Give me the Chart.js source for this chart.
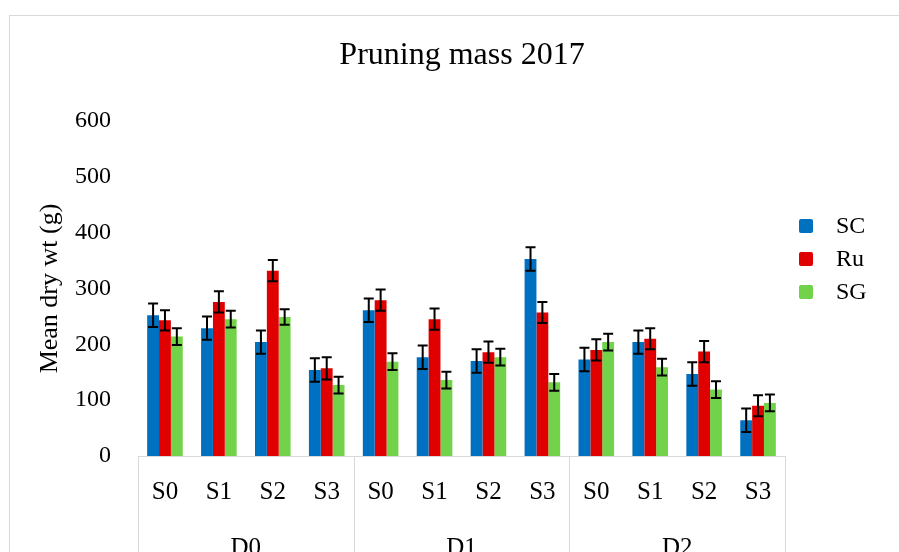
<!DOCTYPE html>
<html><head><meta charset="utf-8">
<script src="https://cdn.jsdelivr.net/npm/chart.js@4"></script>
<style>
html,body{margin:0;padding:0;background:#fff;overflow:hidden;width:899px;height:552px;}
#frame{position:absolute;left:9px;top:15px;width:1000px;height:1000px;border:1px solid #d9d9d9;box-sizing:border-box;}
#wrap{position:absolute;left:0;top:0;width:899px;height:600px;}
</style></head><body>
<div id="frame"></div>
<div id="wrap"><canvas id="c" width="899" height="600"></canvas></div>
<script>
const categories = ['S0','S1','S2','S3','S0','S1','S2','S3','S0','S1','S2','S3'];
const groups = ['D0','D1','D2'];
const seriesNames = ['SC','Ru','SG'];
const seriesColors = ['#0070C0','#E00000','#72D24A'];
const scValues = [252,229,204,154, 261,177,170,353, 173,204,147,64];
const ruValues = [243,276,332,157, 279,245,186,257, 190,210,187,90];
const sgValues = [214,245,249,127, 169,136,177,132, 204,159,119,95];
const scErrors = [21,21,21,21, 21,21,21,21, 21,21,21,21];
const ruErrors = [18,19,19,20, 19,19,19,19, 19,19,19,19];
const sgErrors = [15,15,14,15, 15,15,15,15, 15,15,15,15];
const yTicks = [0,100,200,300,400,500,600];
const chartTitle = 'Pruning mass 2017';

const FONT = "'Liberation Serif', 'Times New Roman', serif";
Chart.defaults.font.family = FONT;
Chart.defaults.color = '#000';

const errorBars = {
  id: 'errorBars',
  afterDatasetsDraw(chart) {
    const ctx = chart.ctx;
    const y = chart.scales.y;
    ctx.save();
    ctx.strokeStyle = '#000';
    ctx.lineWidth = 2;
    chart.data.datasets.forEach((ds, i) => {
      const meta = chart.getDatasetMeta(i);
      meta.data.forEach((bar, j) => {
        const v = ds.data[j], e = ds.errors[j];
        const y1 = y.getPixelForValue(v + e), y2 = y.getPixelForValue(v - e);
        const cx = bar.x, cap = 5;
        ctx.beginPath();
        ctx.moveTo(cx, y1); ctx.lineTo(cx, y2);
        ctx.moveTo(cx - cap, y1); ctx.lineTo(cx + cap, y1);
        ctx.moveTo(cx - cap, y2); ctx.lineTo(cx + cap, y2);
        ctx.stroke();
      });
    });
    ctx.restore();
  }
};

const decor = {
  id: 'decor',
  afterDraw(chart) {
    const ctx = chart.ctx, x = chart.scales.x, area = chart.chartArea;
    const half = (x.getPixelForValue(1) - x.getPixelForValue(0)) / 2;
    ctx.save();
    ctx.strokeStyle = '#d9d9d9';
    ctx.lineWidth = 1;
    for (let g = 0; g <= groups.length; g++) {
      const idx = g * 4;
      const px = idx < categories.length ? x.getPixelForValue(idx) - half : x.getPixelForValue(categories.length - 1) + half;
      const sx = Math.round(px) + 0.5;
      ctx.beginPath();
      ctx.moveTo(sx, area.bottom);
      ctx.lineTo(sx, chart.height);
      ctx.stroke();
    }
    // title
    ctx.fillStyle = '#000';
    ctx.font = '32px ' + FONT;
    ctx.textAlign = 'center';
    ctx.textBaseline = 'middle';
    ctx.fillText(chartTitle, 462, area.top - 65);
    // legend
    const lx = area.right + 14;
    const ly0 = area.top + 105;
    ctx.font = '24px ' + FONT;
    ctx.textBaseline = 'middle';
    ctx.textAlign = 'left';
    seriesNames.forEach((name, i) => {
      const cy = ly0 + i * 33;
      ctx.fillStyle = seriesColors[i];
      ctx.beginPath();
      if (ctx.roundRect) ctx.roundRect(lx, cy - 7, 14, 14, 2); else ctx.rect(lx, cy - 7, 14, 14);
      ctx.fill();
      ctx.fillStyle = '#000';
      ctx.fillText(name, lx + 37, cy + 1);
    });
    ctx.restore();
  }
};

const valuesList = [scValues, ruValues, sgValues];
const errorsList = [scErrors, ruErrors, sgErrors];

new Chart(document.getElementById('c'), {
  type: 'bar',
  data: {
    labels: categories,
    datasets: seriesNames.map((n, i) => ({
      label: n,
      data: valuesList[i],
      errors: errorsList[i],
      backgroundColor: seriesColors[i],
      borderWidth: 0,
      barPercentage: 1,
      categoryPercentage: 0.66
    }))
  },
  options: {
    responsive: false,
    animation: false,
    layout: { padding: { left: 0, right: 114, top: 121, bottom: 34 } },
    plugins: {
      legend: { display: false },
      tooltip: { enabled: false },
      title: { display: false }
    },
    scales: {
      y: {
        min: 0, max: 600,
        afterBuildTicks(s) { s.ticks = yTicks.map(v => ({ value: v })); },
        afterFit(s) { s.width = 138; },
        ticks: { font: { size: 24 }, color: '#000', padding: 27 },
        grid: { display: false, drawTicks: false },
        border: { display: false },
        title: { display: true, text: 'Mean dry wt (g)', font: { size: 26 }, color: '#000', padding: { top: 35, bottom: 0 } }
      },
      x: {
        position: 'bottom',
        afterFit(s) { s.height = 50; },
        ticks: { font: { size: 25 }, color: '#000', padding: 21, maxRotation: 0, autoSkip: false },
        grid: { display: false, drawTicks: false },
        border: { display: true, color: '#d9d9d9', width: 1 }
      },
      x2: {
        type: 'category',
        labels: groups,
        position: 'bottom',
        offset: true,
        afterFit(s) { s.height = 60; },
        ticks: { font: { size: 25 }, color: '#000', padding: 27, maxRotation: 0, autoSkip: false },
        grid: { display: false, drawTicks: false },
        border: { display: false }
      }
    }
  },
  plugins: [errorBars, decor]
});
</script>
</body></html>
